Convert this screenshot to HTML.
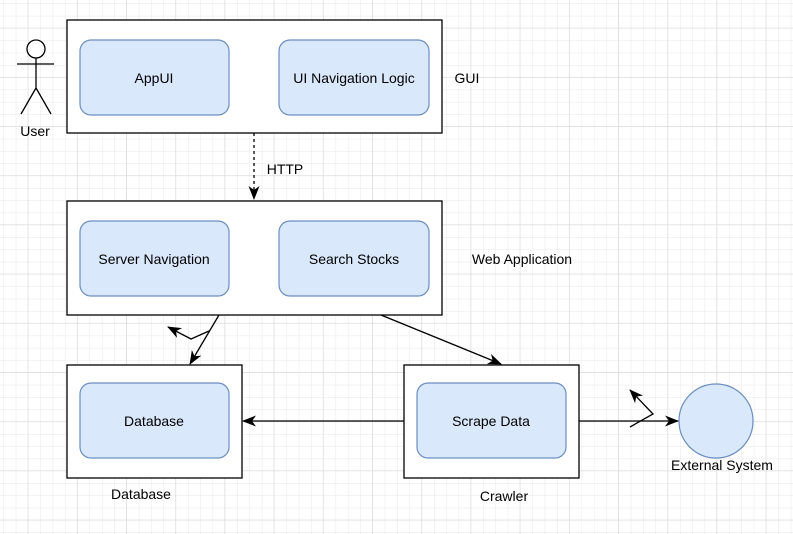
<!DOCTYPE html>
<html><head><style>
html,body{margin:0;padding:0;background:#fff;}
svg{display:block;font-family:"Liberation Sans",Arial,sans-serif;}
</style></head><body>
<svg width="793" height="534" viewBox="0 0 793 534" xmlns="http://www.w3.org/2000/svg">
<defs>
<pattern id="g" x="4" y="4" width="12.3" height="12.3" patternUnits="userSpaceOnUse">
<path d="M12.3 0V12.3H0" fill="none" stroke="#e8e8e8" stroke-width="1"/>
</pattern>
<pattern id="G" x="-21" y="-21" width="49.2" height="49.2" patternUnits="userSpaceOnUse">
<path d="M49.2 0V49.2H0" fill="none" stroke="#d8d8d8" stroke-width="1"/>
</pattern>
<marker id="a" markerWidth="14" markerHeight="14" refX="13" refY="7" orient="auto" markerUnits="userSpaceOnUse">
<path d="M0,1.5 L14,7 L0,12.5 L4,7 z" fill="#000"/>
</marker>
</defs>
<rect width="793" height="534" fill="url(#g)"/>
<rect width="793" height="534" fill="url(#G)"/>
<g fill="#fff" stroke="#000" stroke-width="1.3">
<rect x="67" y="20" width="375" height="113"/>
<rect x="67" y="201" width="375" height="114"/>
<rect x="67" y="365" width="175" height="113"/>
<rect x="404" y="365" width="175" height="113"/>
</g>
<g fill="#dae8fc" stroke="#6c8ebf" stroke-width="1.2">
<rect x="80" y="40" width="149" height="75" rx="11"/>
<rect x="279" y="40" width="150" height="75" rx="11"/>
<rect x="80" y="221" width="149" height="75" rx="11"/>
<rect x="279" y="221" width="150" height="75" rx="11"/>
<rect x="80" y="383" width="149" height="75" rx="11"/>
<rect x="417" y="383" width="149" height="75" rx="11"/>
<circle cx="716" cy="421" r="37"/>
</g>
<g stroke="#000" stroke-width="1.3" fill="none">
<circle cx="36" cy="49" r="9" fill="#fff"/>
<path d="M36 58V88M17 64H54M36 88L21 114M36 88L51 114"/>
<path d="M254 133V199" stroke-dasharray="3,3" marker-end="url(#a)"/>
<path d="M219 315L190 364" marker-end="url(#a)"/>
<path d="M209 331L191 339L168 327" marker-end="url(#a)"/>
<path d="M381 315L501 364" marker-end="url(#a)"/>
<path d="M404 421H243" marker-end="url(#a)"/>
<path d="M579 421H678" marker-end="url(#a)"/>
<path d="M630 427L653 414L630 390" marker-end="url(#a)"/>
</g>
<g font-size="14" fill="#000" text-anchor="middle">
<text x="154" y="83">AppUI</text>
<text x="354" y="83">UI Navigation Logic</text>
<text x="154" y="264">Server Navigation</text>
<text x="354" y="264">Search Stocks</text>
<text x="154" y="426">Database</text>
<text x="491" y="426">Scrape Data</text>
<text x="35" y="136">User</text>
<text x="467" y="83">GUI</text>
<text x="285" y="174">HTTP</text>
<text x="522" y="264">Web Application</text>
<text x="141" y="499">Database</text>
<text x="504" y="501">Crawler</text>
<text x="722" y="470">External System</text>
</g>
</svg>
</body></html>
